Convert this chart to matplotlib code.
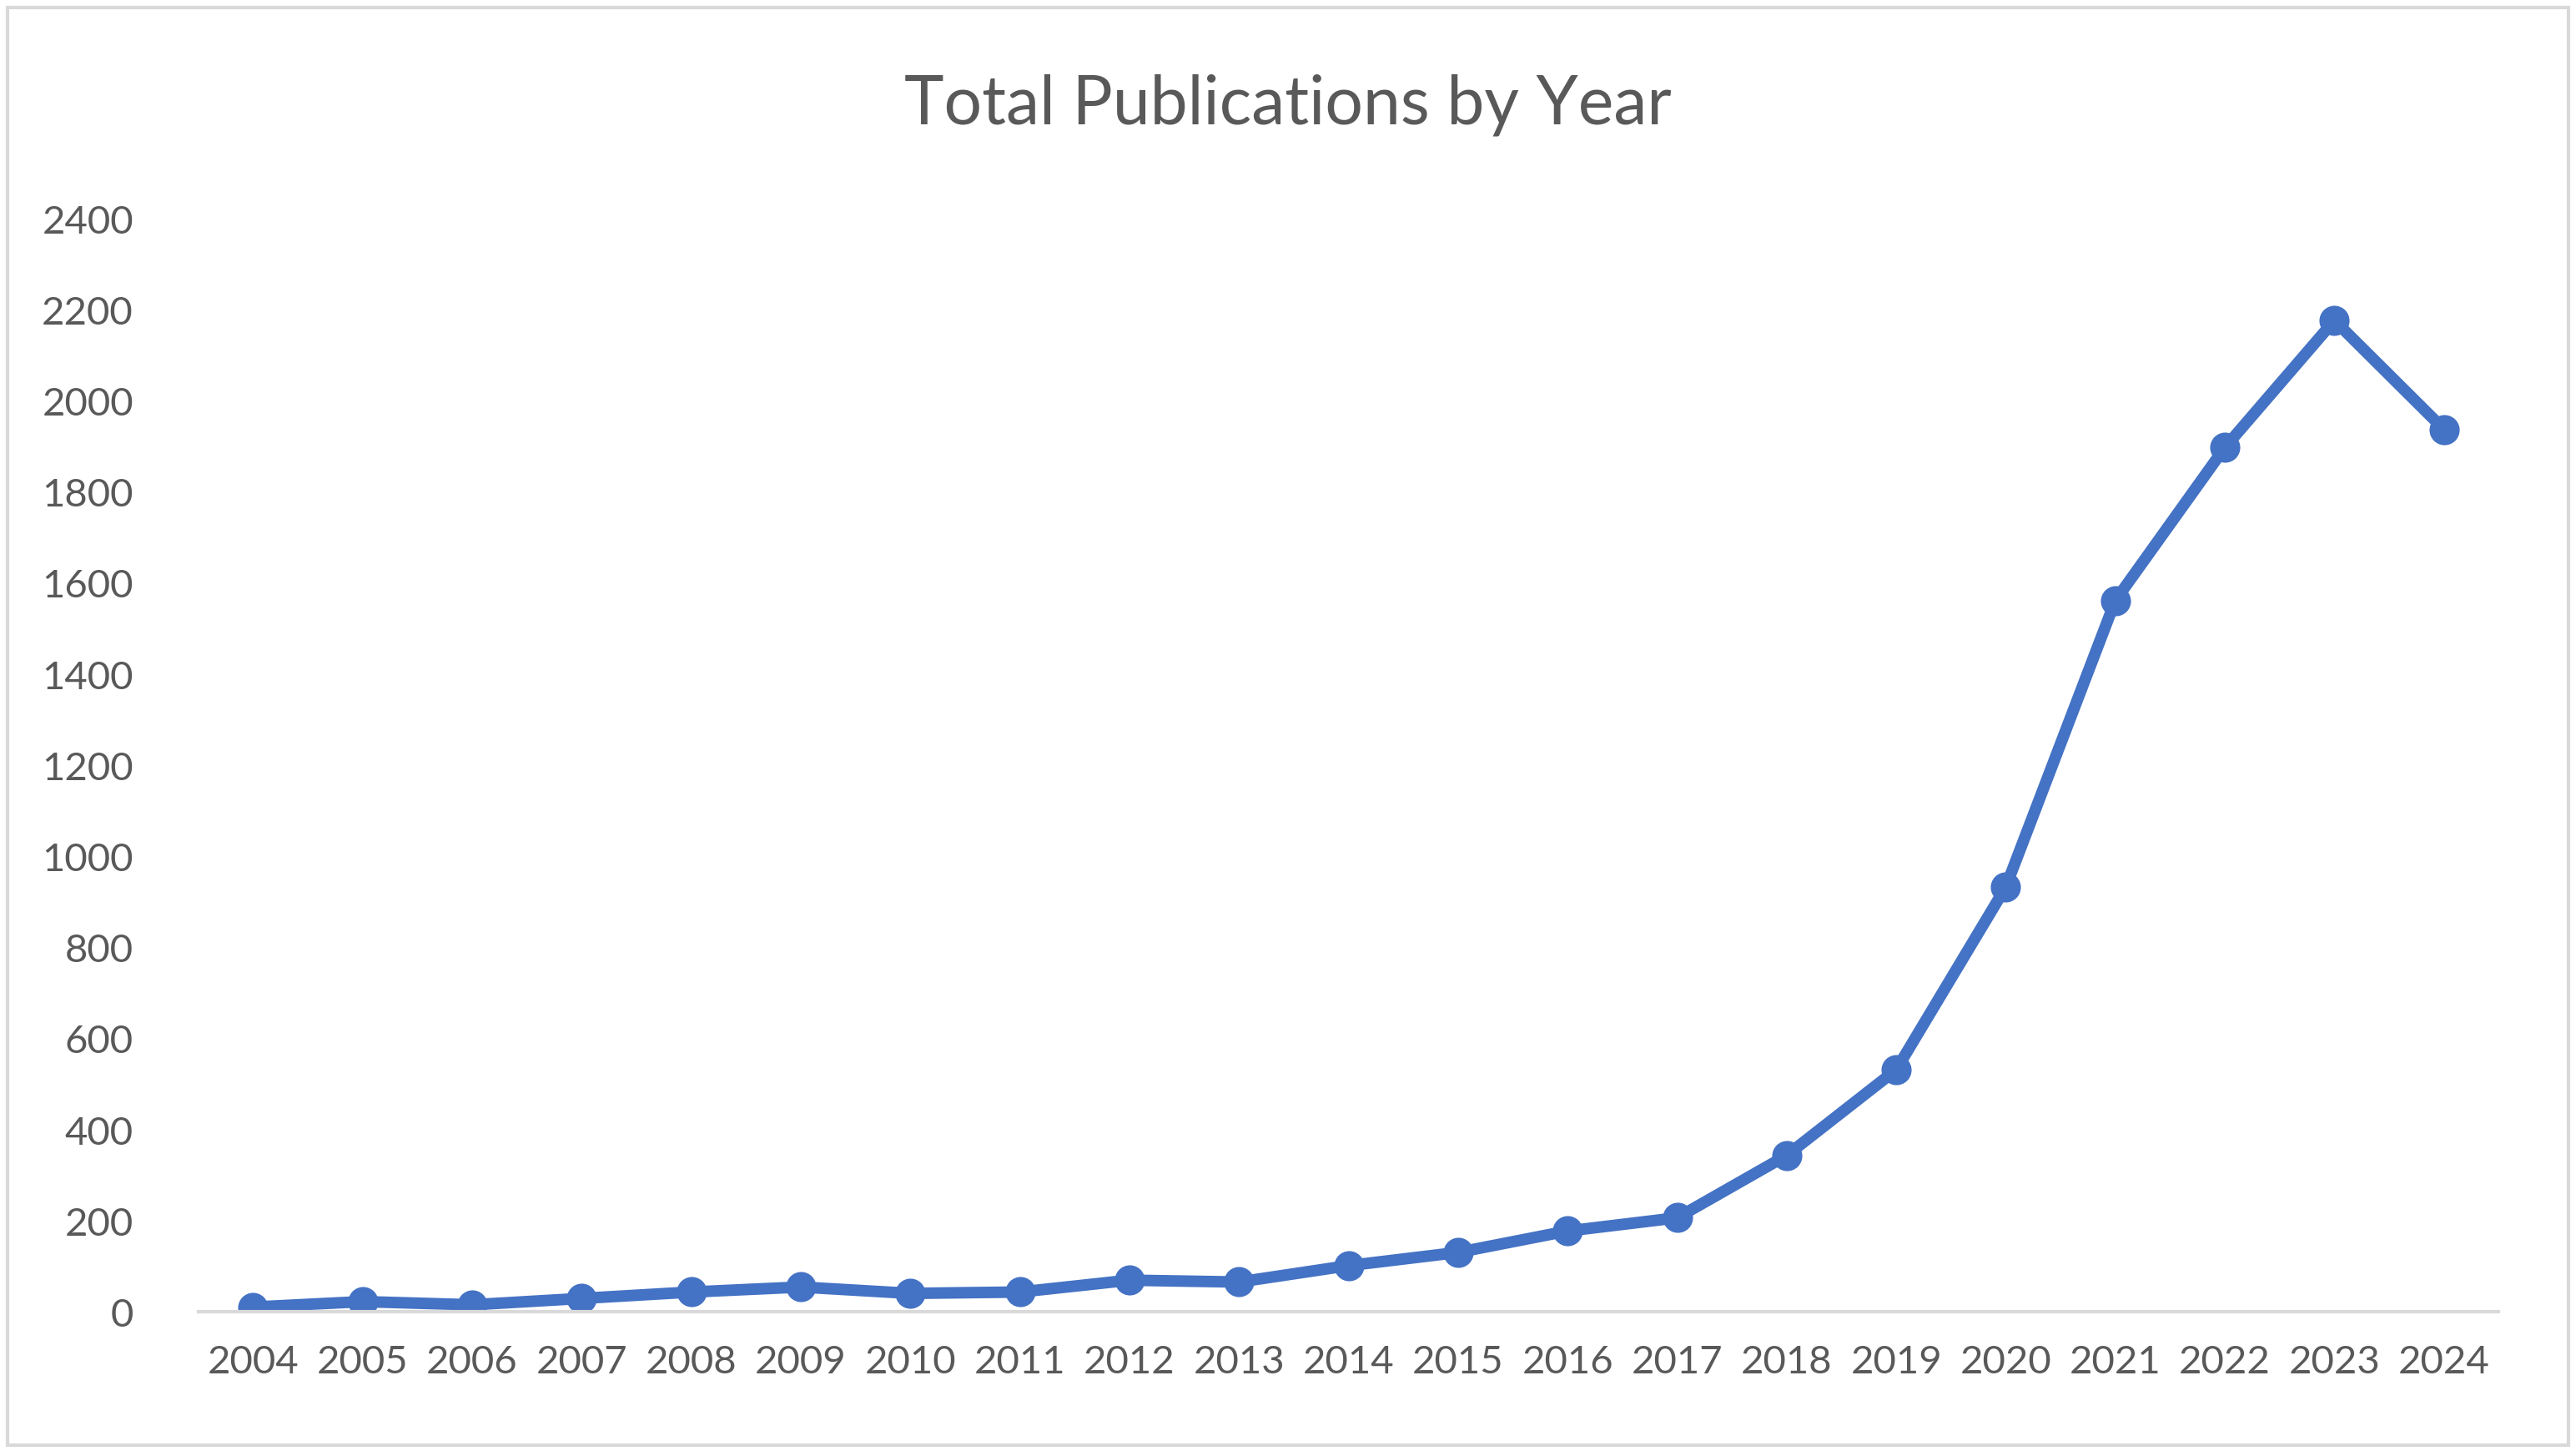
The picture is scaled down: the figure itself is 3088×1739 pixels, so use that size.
#!/usr/bin/env python3
import matplotlib
matplotlib.use("Agg")
import matplotlib.pyplot as plt
from matplotlib.patches import Rectangle

years = [str(y) for y in range(2004, 2025)]
publications = [10, 22, 15, 29, 43, 54, 40, 43, 69, 65, 101, 130, 177, 206,
                343, 531, 932, 1561, 1897, 2176, 1937]
y_ticks = list(range(0, 2401, 200))

plt.rcParams["font.family"] = ["Lato", "DejaVu Sans"]

fig = plt.figure(figsize=(15.44, 8.7), dpi=200)
ax = fig.add_axes([0.077, 0.096, 0.893, 0.753])

ax.plot(range(len(years)), publications, color="#4472C4", linewidth=5,
        marker="o", markersize=12, solid_capstyle="round")

ax.set_xlim(-0.5, len(years) - 0.5)
ax.set_ylim(0, 2400)
ax.set_yticks(y_ticks)
ax.set_xticks(range(len(years)))
ax.set_xticklabels(years)
ax.tick_params(axis="both", length=0, labelsize=17, labelcolor="#595959", pad=14)
ax.tick_params(axis="y", pad=28)
for side in ["top", "right", "left"]:
    ax.spines[side].set_visible(False)
ax.spines["bottom"].set_color("#D9D9D9")
ax.spines["bottom"].set_linewidth(1.5)

fig.text(0.5, 0.928, "Total Publications by Year", ha="center", va="center",
         fontsize=29, color="#595959")
fig.patches.append(Rectangle((0.003, 0.004), 0.994, 0.99, transform=fig.transFigure,
                             fill=False, edgecolor="#D9D9D9", linewidth=1.5))

fig.savefig("out.png", dpi=200)
